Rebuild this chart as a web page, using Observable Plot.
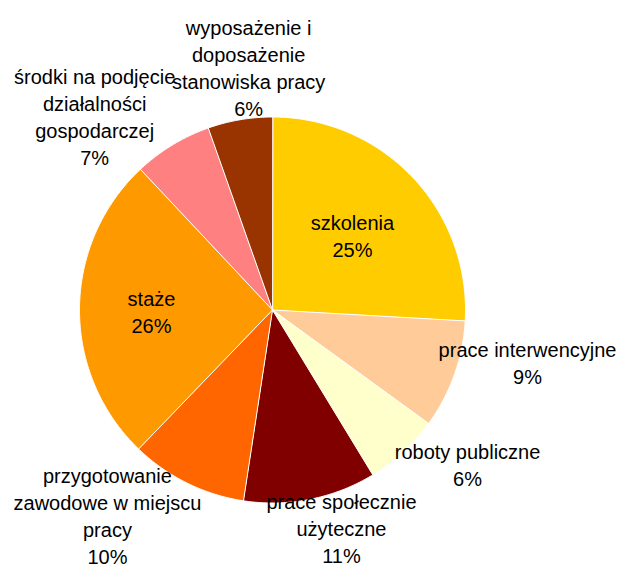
<!DOCTYPE html>
<html>
<head>
<meta charset="utf-8">
<script src="https://cdn.jsdelivr.net/npm/d3@7"></script>
<script src="https://cdn.jsdelivr.net/npm/@observablehq/plot@0.6"></script>
<style>
  html, body { margin: 0; padding: 0; background: #ffffff; }
  #chart svg { display: block; }
</style>
</head>
<body>
<div id="chart"></div>
<script>
// ---- data ----
const categories = [
  "szkolenia",
  "prace interwencyjne",
  "roboty publiczne",
  "prace społecznie użyteczne",
  "przygotowanie zawodowe w miejscu pracy",
  "staże",
  "środki na podjęcie działalności gospodarczej",
  "wyposażenie i doposażenie stanowiska pracy"
];
// slice sizes (share of the whole, %)
const shares = [25.9, 9.1, 6.3, 11.1, 9.8, 25.8, 6.6, 5.4];
// percentage labels as printed on the chart
const percentLabels = ["25%", "9%", "6%", "11%", "10%", "26%", "7%", "6%"];
// category labels as wrapped on the chart
const labelText = [
  "szkolenia",
  "prace interwencyjne",
  "roboty publiczne",
  "prace społecznie\nużyteczne",
  "przygotowanie\nzawodowe w miejscu\npracy",
  "staże",
  "środki na podjęcie\ndziałalności\ngospodarczej",
  "wyposażenie i\ndoposażenie\nstanowiska pracy"
];
const sliceColors = ["#FFCC00", "#FFCC99", "#FFFFCC", "#800000", "#FF6600", "#FF9900", "#FF8080", "#993300"];

// ---- layout (label placement, polar: degrees clockwise from top, radius in pie radii) ----
const labelAngle  = [46.8, 101.4, 128.2, 162.4, 218.9, 269.5, 317.5, 354.4];
const labelRadius = [0.568, 1.348, 1.286, 1.182, 1.362, 0.627, 1.364, 1.265];

const W = 621, H = 567;
const CX = 272, CY = 309.5, R = 193; // pie centre and radius in px

// ---- geometry derived from the data ----
const total = d3.sum(shares);
const toRad = Math.PI / 180;
const polygons = [];
let acc = 0;
shares.forEach((v, i) => {
  const a0 = acc / total * 360;
  acc += v;
  const a1 = acc / total * 360;
  const steps = Math.max(2, Math.ceil((a1 - a0) / 0.5));
  polygons.push({slice: i, x: 0, y: 0, color: sliceColors[i]});
  for (let k = 0; k <= steps; k++) {
    const a = (a0 + (a1 - a0) * k / steps) * toRad;
    polygons.push({slice: i, x: Math.sin(a), y: Math.cos(a), color: sliceColors[i]});
  }
});

const labels = categories.map((c, i) => {
  const a = labelAngle[i] * toRad;
  return {
    text: labelText[i] + "\n" + percentLabels[i],
    x: Math.sin(a) * labelRadius[i],
    y: Math.cos(a) * labelRadius[i]
  };
});

const chart = Plot.plot({
  width: W,
  height: H,
  margin: 0,
  x: {domain: [-CX / R, (W - CX) / R], axis: null},
  y: {domain: [-(H - CY) / R, CY / R], axis: null},
  color: {type: "identity"},
  style: {background: "#ffffff", fontFamily: "'Liberation Sans', Arial, sans-serif"},
  marks: [
    Plot.line(polygons, {
      x: "x", y: "y", z: "slice",
      fill: "color",
      stroke: "#ffffff",
      strokeWidth: 1,
      strokeLinejoin: "miter",
      curve: "linear-closed"
    }),
    Plot.text(labels, {
      x: "x", y: "y", text: "text",
      fontSize: 20,
      lineHeight: 1.35,
      fill: "#000000",
      fontFamily: "'Liberation Sans', Arial, sans-serif",
      textAnchor: "middle"
    })
  ]
});
document.getElementById("chart").appendChild(chart);
</script>
</body>
</html>
